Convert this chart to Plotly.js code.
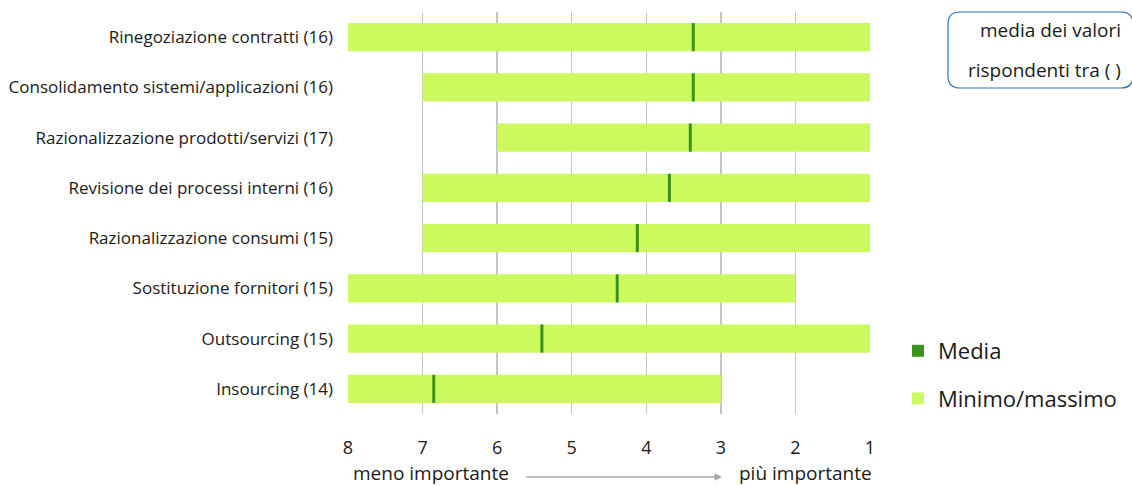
<!DOCTYPE html>
<html>
<head>
<meta charset="utf-8">
<script src="https://cdn.plot.ly/plotly-3.0.1.min.js"></script>
<style>html,body{margin:0;padding:0;background:#fff;}#chart{width:1132px;height:486px;}</style>
</head>
<body>
<div id="chart"></div>
<script>
// ---- data ----
const categories = [
  "Rinegoziazione contratti (16)",
  "Consolidamento sistemi/applicazioni (16)",
  "Razionalizzazione prodotti/servizi (17)",
  "Revisione dei processi interni (16)",
  "Razionalizzazione consumi (15)",
  "Sostituzione fornitori (15)",
  "Outsourcing (15)",
  "Insourcing (14)"
];
const minimo = [1, 1, 1, 1, 1, 2, 1, 3];   // most important value given
const massimo = [8, 7, 6, 7, 7, 8, 8, 8];  // least important value given
const media = [3.37, 3.37, 3.41, 3.69, 4.12, 4.39, 5.40, 6.85];
const tickVals = [8, 7, 6, 5, 4, 3, 2, 1];
const tickText = ["8", "7", "6", "5", "4", "3", "2", "1"];

// ---- layout helpers (pixel -> paper) ----
const W = 1132, H = 486;
const M = {l: 348, r: 262, t: 12, b: 72, autoexpand: false};
const PW = W - M.l - M.r, PH = H - M.t - M.b;
const px = x => (x - M.l) / PW;
const py = y => (H - M.b - y) / PH;

const FONT = "'Open Sans', 'Noto Sans', sans-serif";
const TXT = "#1a1a1a";
const markW = 0.04;

const traces = [
  {
    type: "bar", orientation: "h", name: "Minimo/massimo",
    y: categories, base: minimo, x: massimo.map((v, i) => v - minimo[i]),
    width: 0.56, marker: {color: "#ccfa5e"}, legendrank: 2, legendgroup: "mm",
    hoverinfo: "skip"
  },
  {
    type: "bar", orientation: "h", name: "Media",
    y: categories, base: media.map(v => v - markW / 2), x: media.map(() => markW),
    width: 0.56, marker: {color: "#3a921e"}, legendrank: 1, legendgroup: "me",
    hoverinfo: "skip"
  }
];

// rounded rectangle (info box)
const bx0 = 948, bx1 = 1133, by0 = 12, by1 = 88, r = 12;
const P = (x, y) => px(x) + "," + py(y);
const boxPath = "M" + P(bx0 + r, by0) + " L" + P(bx1 - r, by0) + " Q" + P(bx1, by0) + " " + P(bx1, by0 + r) +
  " L" + P(bx1, by1 - r) + " Q" + P(bx1, by1) + " " + P(bx1 - r, by1) +
  " L" + P(bx0 + r, by1) + " Q" + P(bx0, by1) + " " + P(bx0, by1 - r) +
  " L" + P(bx0, by0 + r) + " Q" + P(bx0, by0) + " " + P(bx0 + r, by0) + " Z";

const ann = (x, y, text, size, xanchor) => ({
  xref: "paper", yref: "paper", x: px(x), y: py(y), text: text,
  xanchor: xanchor || "center", yanchor: "middle", showarrow: false,
  font: {size: size, family: FONT, color: TXT}
});

const layout = {
  width: W, height: H,
  margin: M,
  paper_bgcolor: "#ffffff", plot_bgcolor: "#ffffff",
  barmode: "overlay",
  font: {family: FONT, color: TXT},
  xaxis: {
    range: [8, 1], tickvals: tickVals, ticktext: tickText,
    showgrid: true, gridcolor: "#c4c4c4", gridwidth: 1.5,
    zeroline: false, showline: false, ticks: "", automargin: false,
    ticklabelstandoff: 21,
    tickfont: {size: 18, family: FONT, color: TXT}
  },
  yaxis: {
    autorange: "reversed", type: "category", automargin: false,
    showgrid: false, zeroline: false, showline: false, ticks: "",
    ticklabelstandoff: 14,
    tickfont: {size: 17, family: FONT, color: TXT}
  },
  showlegend: true,
  legend: {
    x: px(898), xanchor: "left", y: py(330), yanchor: "top",
    traceorder: "grouped", tracegroupgap: 16,
    font: {size: 22, family: FONT, color: TXT},
    bgcolor: "rgba(0,0,0,0)"
  },
  shapes: [
    {type: "path", xref: "paper", yref: "paper", path: boxPath,
     line: {color: "#2e75b6", width: 1.2}, fillcolor: "rgba(0,0,0,0)"}
  ],
  annotations: [
    ann(1123, 30, "media dei valori", 19, "right"),
    ann(1123, 70, "rispondenti tra ( )", 19, "right"),
    ann(351, 473, "meno importante", 19, "left"),
    ann(874, 473, "più importante", 19, "right"),
    {xref: "paper", yref: "paper", axref: "paper", ayref: "paper",
     x: px(722), y: py(477), ax: px(525), ay: py(477), text: "",
     showarrow: true, arrowhead: 2, arrowsize: 1, arrowwidth: 1.5, arrowcolor: "#a6a6a6"}
  ]
};

Plotly.newPlot("chart", traces, layout, {displayModeBar: false, staticPlot: true});
</script>
</body>
</html>
